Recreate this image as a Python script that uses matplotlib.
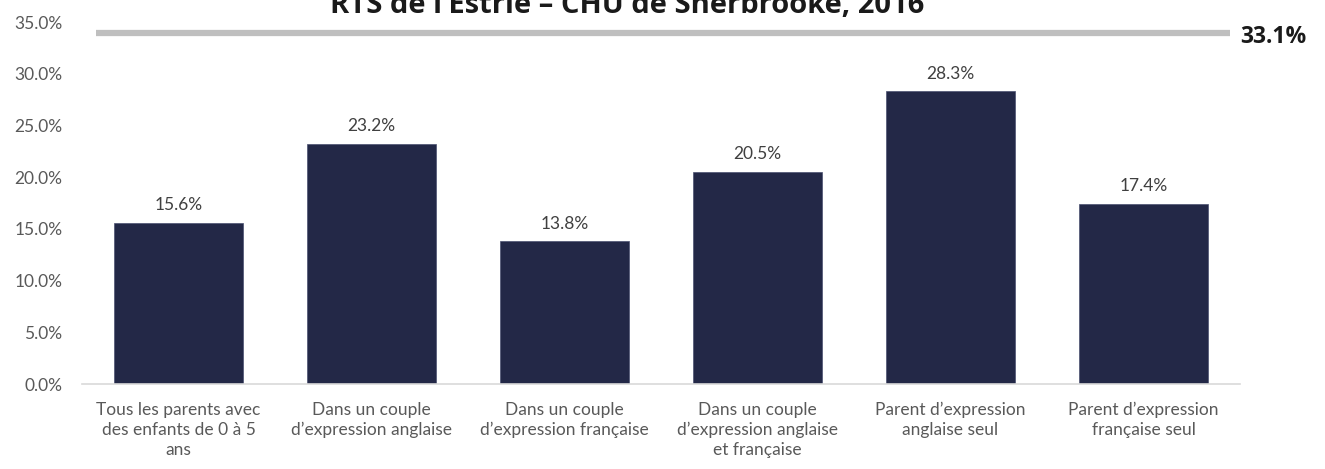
import matplotlib
matplotlib.use("Agg")
import matplotlib.pyplot as plt
import numpy as np

# Données
categories = [
    "Tous les parents avec\ndes enfants de 0 à 5\nans",
    "Dans un couple\nd’expression anglaise",
    "Dans un couple\nd’expression française",
    "Dans un couple\nd’expression anglaise\net française",
    "Parent d’expression\nanglaise seul",
    "Parent d’expression\nfrançaise seul",
]
values = [15.6, 23.2, 13.8, 20.5, 28.3, 17.4]
reference_value = 33.1
title = "RTS de l’Estrie – CHU de Sherbrooke, 2016"
yticks = [0, 5, 10, 15, 20, 25, 30, 35]

bar_color = "#232847"
line_color = "#BFBFBF"
text_color = "#404040"
tick_color = "#595959"

fig = plt.figure(figsize=(13.25, 4.69), dpi=100)
ax = fig.add_axes([82 / 1325, 1 - 384 / 469, (1240 - 82) / 1325, (384 - 22) / 469])

x = np.arange(len(categories))
ax.bar(x, values, width=0.67, color=bar_color, edgecolor="#4a5070", linewidth=0.5, zorder=2)

for xi, v in zip(x, values):
    ax.annotate(f"{v:.1f}%", xy=(xi, v), xytext=(0, 7), textcoords="offset points",
                ha="center", va="bottom", fontsize=12.5, family="Lato", color=text_color)

ax.set_xlim(-0.5, len(categories) - 0.5)
ax.set_ylim(0, 35)
ax.set_yticks(yticks)
ax.set_yticklabels([f"{t:.1f}%" for t in yticks], family="Lato", fontsize=12.5, color=tick_color)
ax.set_xticks(x)
ax.set_xticklabels(categories, family="Lato", fontsize=12.5, color=tick_color, linespacing=1.3)
ax.tick_params(axis="both", length=0)
ax.tick_params(axis="y", pad=14)
ax.tick_params(axis="x", pad=13)
for side in ["top", "right", "left"]:
    ax.spines[side].set_visible(False)
ax.spines["bottom"].set_color("#D9D9D9")
ax.spines["bottom"].set_linewidth(1.2)

# Ligne de référence sur un axe secondaire
ax2 = ax.twinx()
ax2.set_ylim(0, 34.14)
ax2.axis("off")
ax2.hlines(reference_value, -0.43, 5.45, color=line_color, linewidth=4.5, zorder=3)
ax2.annotate(f"{reference_value:.1f}%", xy=(5.45, reference_value), xytext=(7, -3),
             textcoords="offset points", ha="left", va="center", fontsize=16.5,
             family="Open Sans", fontweight="bold", color="#1a1a1a", annotation_clip=False)

fig.text(0.473, 1 - 13 / 469, title, ha="center", va="baseline", fontsize=21,
         family="Open Sans", fontweight="bold", color="#1a1a1a")

fig.savefig("out.png", dpi=100)
